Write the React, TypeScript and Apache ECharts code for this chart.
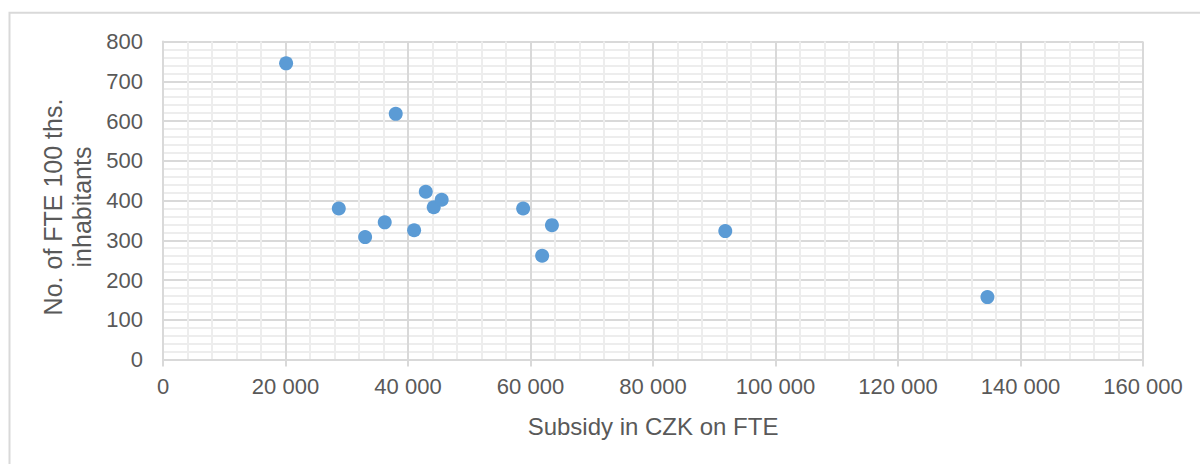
import React, { useEffect, useRef } from "react";
import * as echarts from "echarts";

const subsidy = [20100, 38000, 28700, 33000, 36200, 41000, 42900, 44200, 45500, 58800, 61900, 63500, 91800, 134600];
const fteCount = [745, 618, 380, 308, 345, 325, 422, 383, 402, 380, 261, 338, 323, 157];
const xTitle = "Subsidy in CZK on FTE";
const yTitle = "No. of FTE 100 ths.\ninhabitants";

const fmt = (v: number) => {
  if (v === 0) return "0";
  const s = String(v);
  return s.replace(/\B(?=(\d{3})+(?!\d))/g, " ");
};

export default function App() {
  const ref = useRef<HTMLDivElement>(null);
  useEffect(() => {
    if (!ref.current) return;
    const chart = echarts.init(ref.current, undefined, { renderer: "svg" });
    const font = "'Liberation Sans', Arial, sans-serif";
    chart.setOption({
      animation: false,
      backgroundColor: "#ffffff",
      textStyle: { fontFamily: font },
      grid: { left: 163, right: 57, top: 41.5, bottom: 104.5, containLabel: false },
      xAxis: {
        type: "value",
        min: 0,
        max: 160000,
        interval: 20000,
        name: xTitle,
        nameLocation: "middle",
        nameGap: 55,
        nameTextStyle: { fontSize: 24, color: "#595959", fontFamily: font },
        axisLine: { show: true, lineStyle: { color: "#d9d9d9", width: 2 } },
        axisTick: { show: true, length: 7, lineStyle: { color: "#d9d9d9", width: 2 } },
        axisLabel: { fontSize: 22, color: "#595959", margin: 16, formatter: fmt, fontFamily: font },
        splitLine: { show: true, lineStyle: { color: "#d9d9d9", width: 2 } },
        minorTick: { show: false, splitNumber: 5 },
        minorSplitLine: { show: true, lineStyle: { color: "#ededed", width: 2 } },
      },
      yAxis: {
        type: "value",
        min: 0,
        max: 800,
        interval: 100,
        axisLine: { show: true, lineStyle: { color: "#d9d9d9", width: 2 } },
        axisTick: { show: false },
        axisLabel: { fontSize: 22, color: "#595959", margin: 20, fontFamily: font },
        splitLine: { show: true, lineStyle: { color: "#d9d9d9", width: 2 } },
        minorTick: { show: false, splitNumber: 5 },
        minorSplitLine: { show: true, lineStyle: { color: "#ededed", width: 2 } },
      },
      graphic: [
        {
          type: "rect",
          shape: { x: 9.5, y: 12.8, width: 1400, height: 700 },
          style: { fill: "none", stroke: "#d9d9d9", lineWidth: 2 },
          silent: true,
        },
        {
          type: "text",
          x: 67,
          y: 207,
          rotation: Math.PI / 2,
          style: {
            text: yTitle,
            fontSize: 25,
            lineHeight: 29,
            fill: "#595959",
            fontFamily: font,
            align: "center",
            verticalAlign: "middle",
          },
        },
      ],
      series: [
        {
          type: "scatter",
          data: subsidy.map((x, i) => [x, fteCount[i]]),
          symbol: "circle",
          symbolSize: 14,
          itemStyle: { color: "#5b9bd5", opacity: 1 },
        },
      ],
    });
    return () => chart.dispose();
  }, []);
  return <div ref={ref} style={{ position: "fixed", left: 0, top: 0, width: 1200, height: 464 }} />;
}
